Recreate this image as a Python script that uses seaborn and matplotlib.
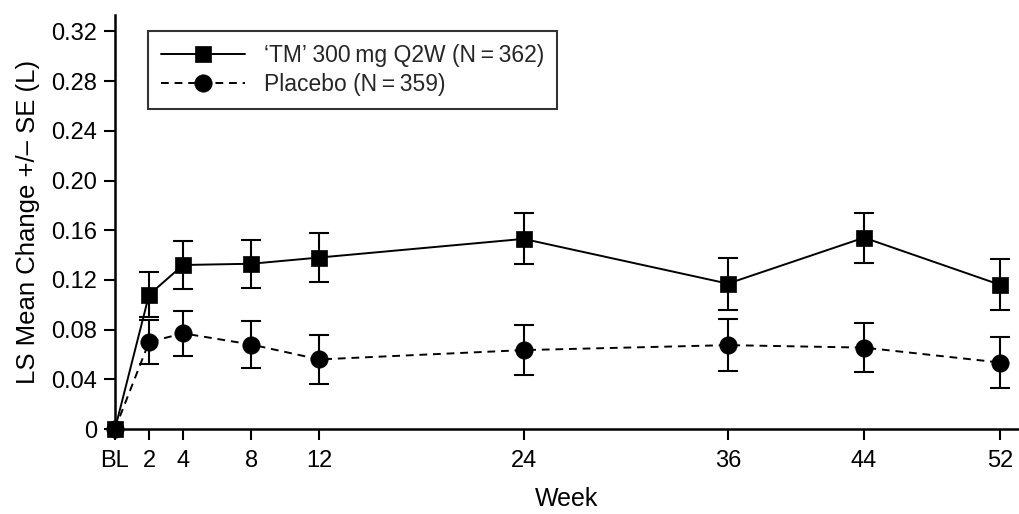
import numpy as np
import pandas as pd
import matplotlib
matplotlib.use("Agg")
import matplotlib.pyplot as plt
import seaborn as sns

# valeurs
weeks = [0, 2, 4, 8, 12, 24, 36, 44, 52]
week_labels = ['BL', '2', '4', '8', '12', '24', '36', '44', '52']

tm_mean = [0.0, 0.108, 0.132, 0.133, 0.138, 0.153, 0.117, 0.154, 0.116]
tm_se = [0.0, 0.018, 0.019, 0.0195, 0.020, 0.0205, 0.021, 0.020, 0.0205]

pbo_mean = [0.0, 0.070, 0.077, 0.068, 0.056, 0.0635, 0.0675, 0.0655, 0.0535]
pbo_se = [0.0, 0.018, 0.018, 0.019, 0.0195, 0.020, 0.021, 0.020, 0.0205]

yticks = [0, 0.04, 0.08, 0.12, 0.16, 0.20, 0.24, 0.28, 0.32]

tm_label = '\u2018TM\u2019 300\u2009mg Q2W (N\u2009=\u2009362)'
pbo_label = 'Placebo (N\u2009=\u2009359)'

df_tm = pd.DataFrame({'Week': weeks, 'Mean': tm_mean, 'SE': tm_se})
df_pbo = pd.DataFrame({'Week': weeks, 'Mean': pbo_mean, 'SE': pbo_se})

sns.set_theme(style="ticks")
plt.rcParams['font.family'] = ['Liberation Sans', 'DejaVu Sans']

fig = plt.figure(figsize=(10.19, 5.14), dpi=100)
ax = fig.add_axes([115 / 1019, 85 / 514, 904 / 1019, 414 / 514])

# --- placebo (pointillés) ---
sns.lineplot(data=df_pbo, x='Week', y='Mean', ax=ax, color='black',
             linestyle=(0, (4, 3)), linewidth=1.4, marker='o', markersize=12.5,
             markeredgecolor='black', markeredgewidth=0.5, label=pbo_label,
             errorbar=None, clip_on=False, zorder=3)
ax.errorbar(df_pbo['Week'][1:], df_pbo['Mean'][1:], yerr=df_pbo['SE'][1:],
            fmt='none', ecolor='black', elinewidth=1.5, capsize=7.5,
            capthick=1.5, zorder=2)

# --- TM (trait plein) ---
sns.lineplot(data=df_tm, x='Week', y='Mean', ax=ax, color='black',
             linestyle='-', linewidth=1.4, marker='s', markersize=11.5,
             markeredgecolor='black', markeredgewidth=0.5, label=tm_label,
             errorbar=None, clip_on=False, zorder=4)
ax.errorbar(df_tm['Week'][1:], df_tm['Mean'][1:], yerr=df_tm['SE'][1:],
            fmt='none', ecolor='black', elinewidth=1.5, capsize=7.5,
            capthick=1.5, zorder=2)

ax.set_xlim(0, 53.1)
ax.set_ylim(0, 0.3332)
ax.set_xticks(weeks)
ax.set_xticklabels(week_labels)
ax.set_yticks(yticks)
ax.set_yticklabels(['0'] + [f'{v:.2f}' for v in yticks[1:]])

ax.tick_params(axis='both', direction='out', length=8, width=1.5,
               labelsize=17, colors='black')
ax.tick_params(axis='x', pad=7)
ax.tick_params(axis='y', pad=5)
for side in ['left', 'bottom']:
    ax.spines[side].set_linewidth(1.8)
    ax.spines[side].set_color('black')
sns.despine(ax=ax)

ax.set_xlabel('Week', fontsize=18, labelpad=11, color='black')
ax.set_ylabel('LS Mean Change +/\u2013 SE (L)', fontsize=18.5, labelpad=8,
              color='black')

handles, labels = ax.get_legend_handles_labels()
leg = ax.legend(handles[::-1], labels[::-1], loc='upper left',
                bbox_to_anchor=(148 / 1019, 1 - 31 / 514),
                bbox_transform=fig.transFigure, fontsize=16.5,
                frameon=True, fancybox=False, edgecolor='black',
                handlelength=3.7, handletextpad=0.8, borderpad=0.55,
                labelspacing=0.3, borderaxespad=0)
leg.get_frame().set_linewidth(1.5)

fig.savefig('out.png', dpi=100)
